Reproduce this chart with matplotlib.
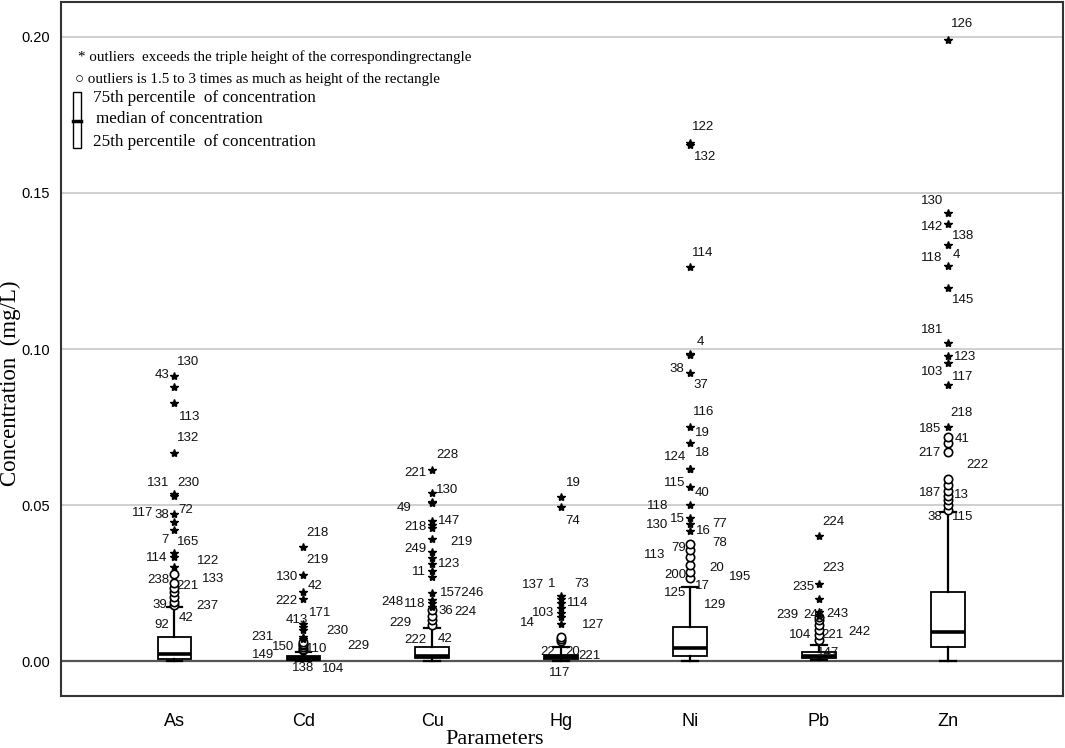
import matplotlib
matplotlib.use("Agg")
import matplotlib.pyplot as plt
from matplotlib.patches import Rectangle

# box statistics (mg/L)
params = ["As", "Cd", "Cu", "Hg", "Ni", "Pb", "Zn"]
q1 = [0.0006, 0.0002, 0.0010, 0.0008, 0.0016, 0.0009, 0.0046]
medians = [0.0022, 0.0008, 0.0016, 0.0012, 0.0041, 0.0017, 0.0094]
q3 = [0.0077, 0.0016, 0.0045, 0.0020, 0.0108, 0.0030, 0.0220]
whisker_low = [0.0, 0.0, 0.0, 0.0, 0.0001, 0.0003, 0.0001]
whisker_high = [0.0173, 0.0030, 0.0106, 0.0045, 0.0238, 0.0051, 0.0479]

# circles: 1.5-3 box heights, stars: more than 3 box heights
mild_outliers = {
    "As": [0.018, 0.019, 0.0205, 0.022, 0.0235, 0.025, 0.028],
    "Cd": [0.0035, 0.004, 0.0045, 0.005, 0.0055, 0.006],
    "Cu": [0.0115, 0.013, 0.0145, 0.0163],
    "Hg": [0.0065, 0.0072, 0.0078],
    "Ni": [0.0266, 0.0285, 0.0308, 0.0333, 0.0356, 0.0375],
    "Pb": [0.0067, 0.0085, 0.010, 0.0115, 0.013, 0.014],
    "Zn": [0.0484, 0.050, 0.0515, 0.053, 0.0545, 0.0564, 0.0582, 0.0671, 0.070, 0.0717],
}
extreme_outliers = {
    "As": [0.0913, 0.0878, 0.0827, 0.0667, 0.0535, 0.0530, 0.047, 0.0446, 0.042,
           0.0346, 0.0335, 0.030],
    "Cd": [0.0366, 0.0276, 0.022, 0.020, 0.012, 0.011, 0.010, 0.0077, 0.007],
    "Cu": [0.0612, 0.054, 0.051, 0.0505, 0.045, 0.0435, 0.0426, 0.039, 0.035, 0.033,
           0.031, 0.029, 0.027, 0.0218, 0.0196, 0.0185, 0.0173],
    "Hg": [0.0526, 0.0494, 0.021, 0.0199, 0.0186, 0.017, 0.0155, 0.014, 0.012],
    "Ni": [0.1659, 0.1655, 0.1264, 0.0983, 0.098, 0.0924, 0.0749, 0.0698, 0.0617,
           0.0614, 0.0559, 0.050, 0.046, 0.0439, 0.0418],
    "Pb": [0.0402, 0.0246, 0.0199, 0.0158, 0.0145],
    "Zn": [0.199, 0.1435, 0.140, 0.1333, 0.1267, 0.1194, 0.1018, 0.0978, 0.0954,
           0.0885, 0.0749],
}

# case numbers printed next to the outliers: (text, x offset, y)
point_labels = {
    "As": [("130", 0.105, 0.0958), ("43", -0.097, 0.0917), ("113", 0.12, 0.0782),
           ("132", 0.105, 0.0715), ("131", -0.128, 0.0571), ("230", 0.105, 0.0571),
           ("117", -0.244, 0.0474), ("38", -0.097, 0.0468), ("72", 0.089, 0.0484),
           ("7", -0.074, 0.0388), ("165", 0.105, 0.0381), ("114", -0.136, 0.0330),
           ("122", 0.26, 0.0321), ("238", -0.128, 0.0260), ("221", 0.097, 0.0240),
           ("133", 0.299, 0.0263), ("39", -0.112, 0.0179), ("237", 0.252, 0.0176),
           ("92", -0.097, 0.0115), ("42", 0.089, 0.0138)],
    "Cd": [("218", 0.113, 0.041), ("219", 0.113, 0.0324), ("130", -0.127, 0.0269),
           ("42", 0.09, 0.024), ("222", -0.135, 0.0192), ("413", -0.05, 0.0131),
           ("171", 0.129, 0.0154), ("231", -0.321, 0.0077), ("230", 0.261, 0.0096),
           ("150", -0.158, 0.0045), ("110", 0.106, 0.0038), ("229", 0.424, 0.0048),
           ("149", -0.313, 0.0019), ("138", 0.0, -0.0022), ("104", 0.23, -0.0026)],
    "Cu": [("228", 0.114, 0.066), ("221", -0.134, 0.0603), ("130", 0.114, 0.0548),
           ("49", -0.22, 0.049), ("218", -0.134, 0.043), ("147", 0.13, 0.0449),
           ("219", 0.23, 0.0381), ("249", -0.134, 0.0359), ("123", 0.13, 0.0311),
           ("11", -0.103, 0.0285), ("157246", 0.23, 0.0218), ("248", -0.313, 0.0189),
           ("118", -0.134, 0.0183), ("36", 0.106, 0.016), ("224", 0.261, 0.0157),
           ("229", -0.25, 0.0122), ("222", -0.134, 0.0067), ("42", 0.099, 0.0071)],
    "Hg": [("19", 0.092, 0.0571), ("74", 0.092, 0.0449), ("137", -0.219, 0.0244),
           ("1", -0.071, 0.0247), ("73", 0.161, 0.0247), ("114", 0.13, 0.0186),
           ("103", -0.141, 0.0154), ("14", -0.265, 0.0122), ("127", 0.247, 0.0115),
           ("22", -0.102, 0.0029), ("20", 0.092, 0.0029), ("221", 0.223, 0.0016),
           ("117", -0.01, -0.0038)],
    "Ni": [("122", 0.101, 0.1712), ("132", 0.116, 0.1615), ("114", 0.101, 0.1308),
           ("4", 0.078, 0.1022), ("38", -0.101, 0.0936), ("37", 0.085, 0.0885),
           ("116", 0.109, 0.0798), ("19", 0.093, 0.0731), ("18", 0.093, 0.0667),
           ("124", -0.116, 0.0654), ("115", -0.116, 0.0571), ("40", 0.093, 0.0538),
           ("118", -0.248, 0.0497), ("15", -0.101, 0.0455), ("130", -0.256, 0.0436),
           ("16", 0.101, 0.0417), ("77", 0.233, 0.0439), ("78", 0.233, 0.0378),
           ("79", -0.085, 0.0362), ("113", -0.272, 0.034), ("200", -0.116, 0.0276),
           ("20", 0.209, 0.0298), ("195", 0.388, 0.0269), ("125", -0.116, 0.0218),
           ("17", 0.093, 0.024), ("129", 0.194, 0.0179)],
    "Pb": [("224", 0.109, 0.0446), ("223", 0.109, 0.0298), ("235", -0.124, 0.0237),
           ("239", -0.248, 0.0147), ("241", -0.031, 0.0147), ("243", 0.147, 0.0151),
           ("104", -0.147, 0.0083), ("221", 0.109, 0.0083), ("242", 0.318, 0.0093),
           ("147", 0.07, 0.0026)],
    "Zn": [("126", 0.109, 0.2042), ("130", -0.124, 0.1474), ("142", -0.124, 0.1391),
           ("138", 0.116, 0.1362), ("118", -0.124, 0.1292), ("4", 0.07, 0.1301),
           ("145", 0.116, 0.1157), ("181", -0.124, 0.1061), ("123", 0.132, 0.0974),
           ("103", -0.124, 0.0926), ("117", 0.116, 0.091), ("218", 0.109, 0.0795),
           ("185", -0.14, 0.0744), ("41", 0.109, 0.0712), ("217", -0.14, 0.0667),
           ("222", 0.233, 0.0628), ("187", -0.14, 0.0538), ("13", 0.109, 0.0532),
           ("38", -0.101, 0.0462), ("115", 0.116, 0.0462)],
}

yticks = [0.00, 0.05, 0.10, 0.15, 0.20]

sans = "Liberation Sans"
serif = "Liberation Serif"

fig = plt.figure(figsize=(10.65, 7.48), dpi=100)
ax = fig.add_axes([0.0573, 0.0695, 0.9407, 0.9278])

positions = list(range(1, len(params) + 1))
stats = []
for i, p in enumerate(params):
    stats.append(dict(label=p, q1=q1[i], med=medians[i], q3=q3[i],
                      whislo=whisker_low[i], whishi=whisker_high[i], fliers=[]))

art = ax.bxp(stats, positions=positions, widths=0.26, capwidths=0.12,
             patch_artist=True, showfliers=False, zorder=3,
             boxprops=dict(facecolor="white", edgecolor="black", linewidth=1.3),
             medianprops=dict(color="black", linewidth=2.6),
             whiskerprops=dict(color="black", linewidth=1.6),
             capprops=dict(color="black", linewidth=1.6))
# the very flat Cd box prints as a solid black bar
art["boxes"][1].set_facecolor("black")

for pos, p in zip(positions, params):
    circ = mild_outliers[p]
    ax.plot([pos] * len(circ), circ, "o", mfc="white", mec="black", ms=6,
            mew=1.2, zorder=4)
    star = extreme_outliers[p]
    ax.plot([pos] * len(star), star, "*", color="black", ms=6, zorder=5)
    for text, dx, y in point_labels[p]:
        ax.text(pos + dx, y, text, ha="center", va="center", fontsize=9.5,
                family=sans, color="#111111", zorder=6)

# grid and zero line
for t in yticks[1:]:
    ax.axhline(t, color="#cccccc", lw=1.3, zorder=0)
ax.axhline(0, color="#555555", lw=1.6, zorder=1)

ax.set_xlim(0.12, 7.893)
ax.set_ylim(-0.0112, 0.2112)
ax.set_xticks(positions)
ax.set_xticklabels(params, family=sans, fontsize=13)
ax.set_yticks(yticks)
ax.set_yticklabels([f"{t:.2f}" for t in yticks], family=sans, fontsize=10.5)
ax.tick_params(axis="x", length=0, pad=12)
ax.tick_params(axis="y", length=0, pad=8)
for s in ax.spines.values():
    s.set_color("#333333")
    s.set_linewidth(1.5)

ax.set_xlabel("Parameters", family=serif, fontsize=16)
ax.xaxis.set_label_coords(0.433, -0.049)
ax.set_ylabel("Concentration  (mg/L)", family=serif, fontsize=16.5)
ax.yaxis.set_label_coords(-0.040, 0.451)

# hand-made legend in the upper left corner
ax.text(0.017, 0.920, "* outliers  exceeds the triple height of the correspondingrectangle",
        transform=ax.transAxes, family=serif, fontsize=10.8, va="center")
ax.text(0.014, 0.889, "○ outliers is 1.5 to 3 times as much as height of the rectangle",
        transform=ax.transAxes, family=[serif, "DejaVu Sans"], fontsize=10.8, va="center")
ax.add_patch(Rectangle((0.012, 0.829), 0.008, 0.041, transform=ax.transAxes,
                       fill=False, edgecolor="black", lw=1))
ax.add_patch(Rectangle((0.012, 0.789), 0.008, 0.040, transform=ax.transAxes,
                       fill=False, edgecolor="black", lw=1))
ax.plot([0.012, 0.020], [0.829, 0.829], transform=ax.transAxes, color="black", lw=2.5)
ax.text(0.032, 0.861, "75th percentile  of concentration", transform=ax.transAxes,
        family=serif, fontsize=12.3, va="center")
ax.text(0.035, 0.831, "median of concentration", transform=ax.transAxes,
        family=serif, fontsize=12.3, va="center")
ax.text(0.032, 0.799, "25th percentile  of concentration", transform=ax.transAxes,
        family=serif, fontsize=12.3, va="center")

fig.savefig("out.png", dpi=100)
